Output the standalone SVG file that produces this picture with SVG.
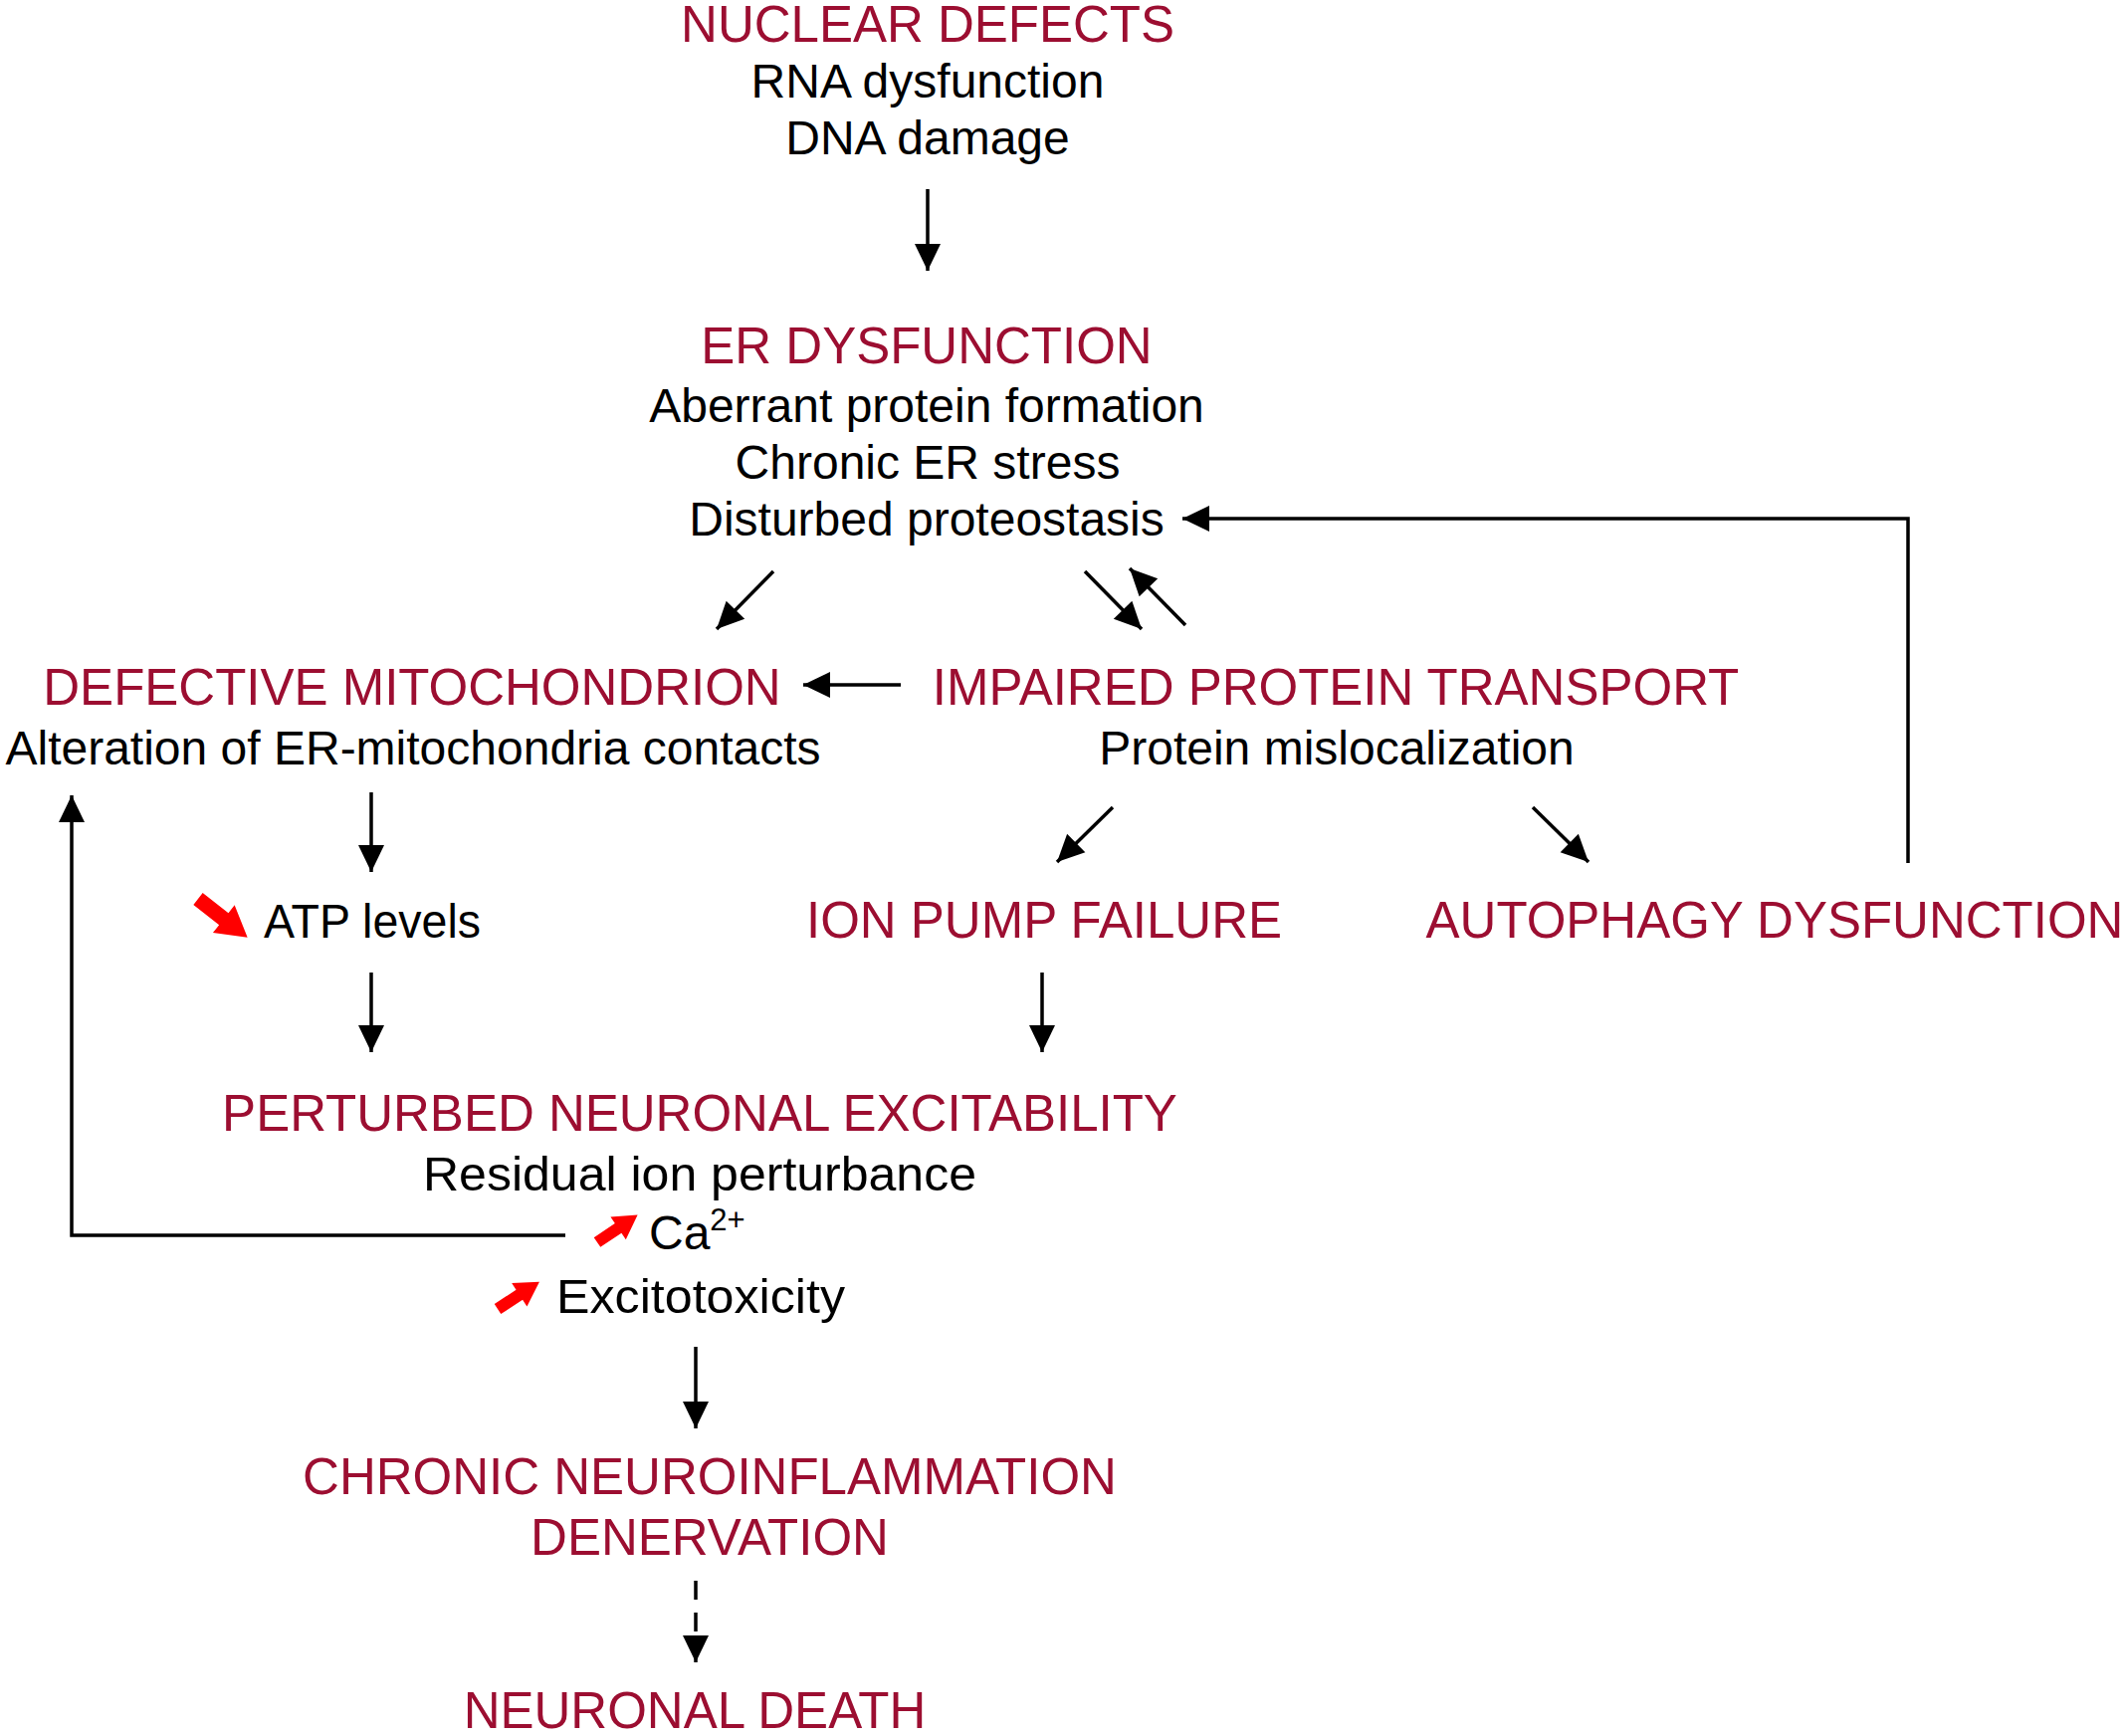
<svg xmlns="http://www.w3.org/2000/svg" width="2133" height="1744" viewBox="0 0 2133 1744">
<style>
text{font-family:"Liberation Sans",Arial,sans-serif}
.h{font-size:51px;fill:#9c0e31;text-anchor:middle}
.b{font-size:48px;fill:#000;text-anchor:middle}
.bs{font-size:48px;fill:#000}
.c{fill:none;stroke:#000;stroke-width:3.5}
.ca{marker-end:url(#ah)}
.dash{stroke-dasharray:19 13}
.red{fill:#ff0000}
</style>
<defs>
<marker id="ah" markerUnits="userSpaceOnUse" markerWidth="30" markerHeight="30" refX="27" refY="13" orient="auto" overflow="visible">
<path d="M0,0 L27,13 L0,26 z" fill="#000"/>
</marker>
<path id="redArrow" d="M0,-6 L26,-6 L26,-14 L50,0 L26,14 L26,6 L0,6 z"/>
</defs>
<rect width="2133" height="1744" fill="#fff"/>

<g id="connectors">
<line class="c ca" x1="932" y1="190" x2="932" y2="272"/>
<line class="c ca" x1="777" y1="574" x2="720" y2="632"/>
<line class="c ca" x1="1090" y1="574" x2="1147" y2="632"/>
<line class="c ca" x1="1191" y1="628" x2="1135" y2="571"/>
<line class="c ca" x1="905" y1="688" x2="807" y2="688"/>
<path class="c ca" d="M1917,867 V521 H1188"/>
<line class="c ca" x1="373" y1="796" x2="373" y2="876"/>
<line class="c ca" x1="1118" y1="811" x2="1062" y2="866"/>
<line class="c ca" x1="1540" y1="811" x2="1596" y2="866"/>
<line class="c ca" x1="373" y1="977" x2="373" y2="1057"/>
<line class="c ca" x1="1047" y1="977" x2="1047" y2="1057"/>
<path class="c ca" d="M568,1241 H72 V799"/>
<line class="c ca" x1="699" y1="1353" x2="699" y2="1435"/>
<line class="c ca dash" x1="699" y1="1588" x2="699" y2="1670"/>
</g>

<g id="nuclear-defects">
<text class="h" x="932" y="42">NUCLEAR DEFECTS</text>
<text class="b" x="932" y="98">RNA dysfunction</text>
<text class="b" x="932" y="155">DNA damage</text>
</g>

<g id="er-dysfunction">
<text class="h" x="931" y="365">ER DYSFUNCTION</text>
<text class="b" x="931" y="424">Aberrant protein formation</text>
<text class="b" x="932" y="481">Chronic ER stress</text>
<text class="b" x="931" y="538">Disturbed proteostasis</text>
</g>

<g id="defective-mitochondrion">
<text class="h" x="414" y="708">DEFECTIVE MITOCHONDRION</text>
<text class="b" x="415" y="768">Alteration of ER-mitochondria contacts</text>
</g>

<g id="impaired-protein-transport">
<text class="h" x="1342" y="708">IMPAIRED PROTEIN TRANSPORT</text>
<text class="b" x="1343" y="768">Protein mislocalization</text>
</g>

<g id="atp-levels">
<use href="#redArrow" class="red" transform="translate(199,903) rotate(38) scale(1.26)"/>
<text class="bs" x="265" y="942" textLength="218" lengthAdjust="spacingAndGlyphs">ATP levels</text>
</g>

<g id="ion-pump-failure">
<text class="h" x="1049" y="942">ION PUMP FAILURE</text>
</g>

<g id="autophagy-dysfunction">
<text class="h" x="1783" y="942">AUTOPHAGY DYSFUNCTION</text>
</g>

<g id="perturbed-neuronal-excitability">
<text class="h" x="703" y="1136">PERTURBED NEURONAL EXCITABILITY</text>
<text class="b" x="703" y="1196" textLength="556" lengthAdjust="spacingAndGlyphs">Residual ion perturbance</text>
<use href="#redArrow" class="red" transform="translate(600,1248) rotate(-34) scale(0.98)"/>
<text class="bs" x="652" y="1255">Ca<tspan font-size="31" dy="-19">2+</tspan></text>
<use href="#redArrow" class="red" transform="translate(500,1315) rotate(-33) scale(1.0)"/>
<text class="bs" x="559" y="1319" textLength="290" lengthAdjust="spacingAndGlyphs">Excitotoxicity</text>
</g>

<g id="chronic-neuroinflammation">
<text class="h" x="713" y="1501">CHRONIC NEUROINFLAMMATION</text>
<text class="h" x="713" y="1562">DENERVATION</text>
</g>

<g id="neuronal-death">
<text class="h" x="698" y="1736">NEURONAL DEATH</text>
</g>
</svg>
